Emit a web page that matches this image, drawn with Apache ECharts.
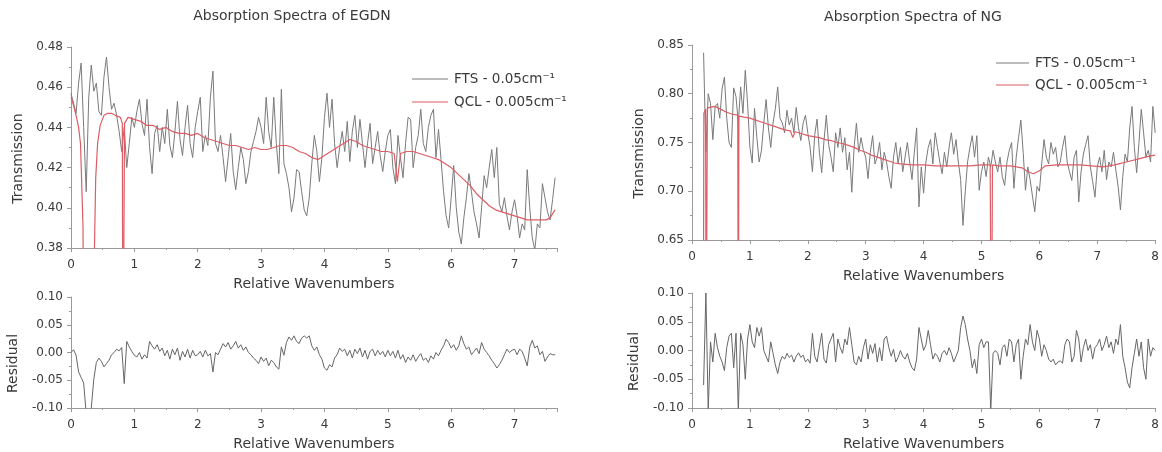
<!DOCTYPE html>
<html>
<head>
<meta charset="utf-8">
<title>Absorption Spectra of EGDN and NG</title>
<script src="https://cdn.jsdelivr.net/npm/echarts@6/dist/echarts.min.js"></script>
<style>
  html, body { margin: 0; padding: 0; background: #ffffff; }
  #chart { width: 1162px; height: 452px; }
</style>
</head>
<body>
<div id="chart"></div>
<script>
// Spacing of the sampled spectra, in relative wavenumbers
const WAVE_STEP = 0.04;

// Axis tick values
const egdnWaveTicks = [0, 1, 2, 3, 4, 5, 6, 7];
const egdnWaveEnd = 7.67;
const ngWaveTicks = [0, 1, 2, 3, 4, 5, 6, 7, 8];
const egdnTransTicks = [0.38, 0.40, 0.42, 0.44, 0.46, 0.48];
const ngTransTicks = [0.65, 0.70, 0.75, 0.80, 0.85];
const residualTicks = [-0.10, -0.05, 0.00, 0.05, 0.10];

// Series names
const FTS_NAME = 'FTS - 0.05cm\u207B\u00B9';
const QCL_NAME = 'QCL - 0.005cm\u207B\u00B9';

// ---------- EGDN ----------
const egdnStart = 0.00;
// FTS transmission, one row per wavenumber unit
const egdnFts = [
  0.457,0.452,0.447,0.462,0.472,0.440,0.408,0.455,0.471,0.458,0.462,0.448,0.446,0.465,0.475,0.460,0.449,0.452,0.446,0.438,0.428,0.440,0.420,0.432,0.445,
  0.440,0.448,0.454,0.442,0.436,0.454,0.430,0.417,0.437,0.441,0.428,0.440,0.432,0.449,0.431,0.425,0.438,0.453,0.434,0.426,0.440,0.451,0.432,0.425,0.440,
  0.448,0.455,0.428,0.436,0.431,0.455,0.468,0.432,0.428,0.436,0.425,0.413,0.425,0.437,0.418,0.409,0.420,0.430,0.424,0.412,0.418,0.428,0.433,0.438,0.445,
  0.440,0.432,0.455,0.438,0.430,0.455,0.432,0.417,0.459,0.422,0.417,0.410,0.398,0.405,0.419,0.418,0.408,0.399,0.396,0.405,0.422,0.436,0.428,0.413,0.425,
  0.445,0.457,0.440,0.454,0.432,0.420,0.430,0.438,0.428,0.443,0.423,0.438,0.446,0.430,0.444,0.432,0.420,0.432,0.442,0.422,0.430,0.438,0.426,0.418,0.428,
  0.436,0.439,0.420,0.412,0.436,0.425,0.415,0.432,0.445,0.444,0.420,0.430,0.436,0.449,0.432,0.428,0.440,0.446,0.449,0.425,0.439,0.424,0.408,0.396,0.390,
  0.405,0.421,0.400,0.388,0.382,0.395,0.405,0.417,0.408,0.398,0.392,0.385,0.400,0.416,0.410,0.420,0.429,0.415,0.430,0.402,0.398,0.405,0.396,0.389,0.398,
  0.404,0.396,0.385,0.392,0.389,0.419,0.400,0.385,0.379,0.392,0.390,0.412,0.405,0.398,0.394,0.404,0.415
];
// QCL transmission as [wavenumber, transmission]
const egdnQcl = [
  [0.00,0.455],[0.04,0.451],[0.08,0.446],[0.12,0.440],[0.15,0.432],[0.19,0.390],[0.20,0.300],
  [0.36,0.300],[0.37,0.380],[0.39,0.415],[0.42,0.432],[0.46,0.441],[0.52,0.446],[0.58,0.447],
  [0.64,0.447],[0.70,0.446],[0.78,0.445],[0.81,0.442],[0.82,0.300],[0.835,0.300],[0.845,0.442],
  [0.90,0.445],[1.00,0.444],[1.10,0.443],[1.20,0.441],[1.30,0.441],[1.40,0.439],[1.50,0.440],
  [1.60,0.438],[1.70,0.437],[1.80,0.437],[1.90,0.436],[2.00,0.437],[2.10,0.435],[2.20,0.434],
  [2.30,0.433],[2.40,0.432],[2.50,0.431],[2.60,0.431],[2.70,0.430],[2.80,0.429],[2.90,0.430],
  [3.00,0.429],[3.10,0.429],[3.20,0.430],[3.30,0.431],[3.40,0.431],[3.50,0.430],[3.60,0.428],
  [3.70,0.427],[3.80,0.425],[3.90,0.424],[4.00,0.426],[4.10,0.428],[4.20,0.430],[4.30,0.432],
  [4.40,0.434],[4.50,0.433],[4.60,0.431],[4.70,0.430],[4.80,0.429],[4.90,0.428],[5.00,0.428],
  [5.10,0.427],[5.15,0.413],[5.20,0.427],[5.30,0.428],[5.40,0.428],[5.50,0.427],[5.60,0.426],
  [5.70,0.425],[5.80,0.424],[5.90,0.422],[6.00,0.420],[6.10,0.417],[6.20,0.414],[6.30,0.411],
  [6.40,0.407],[6.50,0.404],[6.60,0.401],[6.70,0.399],[6.80,0.398],[6.90,0.397],[7.00,0.396],
  [7.10,0.395],[7.20,0.394],[7.30,0.394],[7.40,0.394],[7.50,0.394],[7.56,0.395],[7.64,0.399]
];
// Residual, one row per wavenumber unit
const egdnResidual = [
  0.000,0.005,-0.005,-0.035,-0.045,-0.055,-0.110,-0.120,-0.100,-0.048,-0.018,-0.010,-0.016,-0.026,-0.020,-0.014,-0.004,0.000,0.006,0.003,0.009,-0.056,0.020,0.010,0.002,
  -0.005,-0.008,0.000,-0.012,-0.004,-0.010,0.020,0.012,0.006,0.014,0.002,0.008,-0.006,0.004,-0.012,0.006,-0.004,0.008,-0.014,0.002,-0.008,0.006,-0.010,0.004,-0.006,
  -0.004,0.002,-0.008,0.004,-0.006,-0.002,-0.035,0.000,-0.004,0.006,0.016,0.010,0.018,0.006,0.012,0.020,0.008,0.014,0.004,0.010,0.000,-0.004,-0.010,-0.014,-0.020,
  -0.008,-0.016,-0.010,-0.024,-0.014,-0.018,-0.026,-0.030,0.010,-0.005,0.018,0.028,0.022,0.030,0.020,0.016,0.026,0.030,0.026,0.030,0.012,0.004,0.010,-0.004,-0.012,
  -0.028,-0.032,-0.022,-0.026,-0.010,-0.004,0.008,0.002,0.006,-0.006,0.004,-0.010,0.006,-0.002,0.008,-0.008,0.004,-0.012,0.002,0.006,-0.006,0.004,-0.004,0.002,-0.008,
  0.004,-0.006,0.002,-0.010,0.004,-0.012,-0.004,-0.018,-0.008,-0.014,-0.004,-0.016,-0.008,-0.002,-0.014,-0.010,-0.018,-0.006,-0.012,0.000,-0.006,0.004,0.012,0.024,0.018,
  0.008,0.014,0.004,0.012,0.030,0.016,0.006,0.010,-0.004,0.002,0.008,-0.002,0.018,0.006,0.000,-0.006,-0.014,-0.020,-0.028,-0.022,-0.014,-0.004,0.006,0.000,0.004,
  0.006,-0.004,0.006,0.002,-0.010,-0.024,0.010,0.022,0.008,0.012,-0.004,0.002,-0.016,-0.008,-0.002,-0.004,-0.004
];

// ---------- NG ----------
const ngStart = 0.20;
// FTS transmission; first row 0.20-0.96, then one row per unit, last value at 8.00
const ngFts = [
  0.842,0.740,0.800,0.790,0.753,0.787,0.790,0.775,0.805,0.817,0.775,0.750,0.745,0.806,0.797,0.770,0.807,0.780,0.824,0.790,
  0.745,0.729,0.785,0.755,0.730,0.742,0.770,0.794,0.765,0.745,0.770,0.785,0.807,0.775,0.770,0.760,0.783,0.768,0.775,0.760,0.786,0.765,0.752,0.770,0.778,
  0.760,0.745,0.720,0.758,0.774,0.740,0.719,0.752,0.778,0.748,0.735,0.720,0.760,0.745,0.765,0.740,0.755,0.722,0.740,0.699,0.745,0.770,0.740,0.755,0.742,
  0.735,0.713,0.740,0.757,0.728,0.735,0.750,0.722,0.740,0.730,0.715,0.703,0.735,0.750,0.728,0.745,0.720,0.735,0.750,0.730,0.712,0.740,0.765,0.684,0.725,
  0.698,0.730,0.745,0.753,0.728,0.760,0.745,0.730,0.718,0.740,0.725,0.745,0.760,0.738,0.753,0.730,0.712,0.665,0.700,0.730,0.745,0.757,0.735,0.757,0.701,
  0.720,0.730,0.715,0.735,0.725,0.742,0.730,0.720,0.735,0.715,0.706,0.730,0.742,0.750,0.703,0.735,0.755,0.773,0.740,0.701,0.725,0.712,0.695,0.679,0.705,
  0.700,0.728,0.753,0.735,0.728,0.750,0.738,0.745,0.725,0.730,0.745,0.757,0.730,0.720,0.711,0.735,0.742,0.689,0.720,0.738,0.748,0.757,0.725,0.710,0.694,
  0.725,0.735,0.720,0.742,0.712,0.730,0.725,0.740,0.722,0.705,0.681,0.715,0.738,0.730,0.765,0.787,0.745,0.719,0.750,0.784,0.760,0.735,0.742,0.730,0.787,
  0.760
];
// QCL transmission as [wavenumber, transmission]
const ngQcl = [
  [0.195,0.500],[0.205,0.780],[0.235,0.784],[0.245,0.500],[0.255,0.500],[0.265,0.785],[0.30,0.786],
  [0.40,0.787],[0.50,0.784],[0.60,0.781],[0.70,0.779],[0.79,0.778],[0.80,0.500],[0.81,0.777],
  [0.90,0.776],[1.00,0.775],[1.10,0.773],[1.20,0.771],[1.30,0.769],[1.40,0.767],[1.50,0.765],
  [1.60,0.763],[1.70,0.762],[1.74,0.755],[1.78,0.761],[1.90,0.759],[2.00,0.757],[2.10,0.756],
  [2.20,0.755],[2.30,0.753],[2.40,0.752],[2.50,0.750],[2.60,0.749],[2.70,0.747],[2.80,0.745],
  [2.90,0.742],[3.00,0.740],[3.10,0.737],[3.20,0.735],[3.30,0.733],[3.40,0.731],[3.50,0.729],
  [3.60,0.728],[3.80,0.727],[4.00,0.727],[4.20,0.726],[4.40,0.726],[4.60,0.726],[4.80,0.726],
  [5.00,0.727],[5.15,0.727],[5.17,0.500],[5.19,0.727],[5.30,0.726],[5.50,0.726],[5.70,0.724],
  [5.80,0.720],[5.90,0.718],[6.00,0.721],[6.10,0.726],[6.30,0.727],[6.50,0.727],[6.70,0.727],
  [6.90,0.726],[7.10,0.725],[7.30,0.727],[7.50,0.730],[7.70,0.733],[7.90,0.736],[8.00,0.737]
];
// Residual; first row 0.20-0.96, then one row per unit, last value at 8.00
const ngResidual = [
  -0.060,0.100,-0.105,0.015,-0.020,0.030,0.005,-0.010,-0.020,-0.035,0.005,0.025,0.030,-0.030,0.030,-0.105,0.030,0.010,-0.050,0.020,
  0.045,0.015,0.005,0.040,0.025,0.040,0.000,-0.010,-0.020,0.015,-0.005,-0.025,-0.040,-0.020,-0.010,-0.015,-0.005,-0.012,-0.008,-0.020,-0.010,-0.004,-0.012,-0.008,-0.020,
  -0.015,-0.022,0.030,-0.010,-0.020,0.005,0.030,-0.015,-0.022,0.010,0.020,0.030,-0.020,0.020,0.005,-0.005,0.020,0.010,0.040,0.010,-0.020,-0.025,-0.010,-0.020,0.005,
  0.020,-0.015,0.010,-0.005,0.012,-0.020,0.005,-0.018,0.020,0.025,0.005,-0.010,0.002,-0.020,-0.012,0.000,-0.010,-0.015,-0.005,-0.020,-0.030,-0.035,-0.015,0.040,0.020,
  0.000,0.010,0.035,0.010,-0.015,-0.005,-0.010,-0.020,-0.005,0.000,-0.008,0.005,-0.005,-0.020,-0.010,0.000,0.040,0.060,0.045,0.020,0.000,-0.030,-0.015,-0.040,0.010,
  0.020,0.005,0.015,0.015,-0.105,-0.005,0.000,-0.005,-0.025,0.005,0.010,-0.010,0.020,0.015,-0.020,0.010,0.020,-0.050,-0.010,0.020,0.010,0.045,0.015,0.000,0.035,
  0.020,-0.010,0.010,0.000,-0.015,-0.020,-0.015,-0.025,-0.020,-0.018,-0.022,0.010,0.020,0.015,-0.020,-0.010,0.035,0.020,-0.020,0.005,0.020,0.000,0.010,-0.015,0.005,
  0.010,0.020,0.000,0.010,0.025,0.005,0.015,-0.005,0.020,0.010,0.045,-0.010,-0.030,-0.055,-0.065,-0.030,-0.005,0.020,-0.010,0.015,-0.030,-0.050,0.020,-0.010,0.005,
  0.000
];

// Pair evenly sampled values with their wavenumbers
function onGrid(start, values) {
  return values.map((v, i) => [Math.round((start + i * WAVE_STEP) * 1000) / 1000, v]);
}

const FONT = 'DejaVu Sans';
const AXIS_COLOR = '#9a9a9a';
const TEXT_COLOR = '#3a3a3a';
const GRAY = '#7a7a7a';
const RED = '#dc5d65';
// Legend key: a plain horizontal stroke
const LINE_ICON = 'path://M0,0H40V1.3H0Z';

function step(ticks) {
  return Math.round((ticks[1] - ticks[0]) * 1000) / 1000;
}

function xAxisFor(gridIndex, ticks, max) {
  return {
    type: 'value', gridIndex,
    min: ticks[0], max: max, interval: step(ticks),
    name: 'Relative Wavenumbers', nameLocation: 'middle', nameGap: 29,
    nameTextStyle: { fontFamily: FONT, fontSize: 14, color: TEXT_COLOR },
    axisLine: { show: true, onZero: false, lineStyle: { color: AXIS_COLOR, width: 1 } },
    axisTick: { show: true, inside: false, length: 4, lineStyle: { color: AXIS_COLOR } },
    minorTick: { show: true, splitNumber: 2, length: 2, lineStyle: { color: AXIS_COLOR } },
    axisLabel: {
      margin: 11, fontFamily: FONT, fontSize: 12, color: TEXT_COLOR,
      formatter: v => (Math.abs(v - Math.round(v)) < 1e-6 ? String(Math.round(v)) : '')
    },
    splitLine: { show: false }
  };
}

function yAxisFor(gridIndex, ticks, name, gap) {
  return {
    type: 'value', gridIndex,
    min: ticks[0], max: ticks[ticks.length - 1], interval: step(ticks),
    name, nameLocation: 'middle', nameGap: gap, nameRotate: 90,
    nameTextStyle: { fontFamily: FONT, fontSize: 14, color: TEXT_COLOR, padding: [0, 22, 0, 0] },
    axisLine: { show: true, onZero: false, lineStyle: { color: AXIS_COLOR, width: 1 } },
    axisTick: { show: true, inside: false, length: 4, lineStyle: { color: AXIS_COLOR } },
    minorTick: { show: true, splitNumber: 2, length: 2, lineStyle: { color: AXIS_COLOR } },
    axisLabel: {
      margin: 8, fontFamily: FONT, fontSize: 12, color: TEXT_COLOR,
      formatter: v => (Math.abs(v) < 1e-9 ? 0 : v).toFixed(2)
    },
    splitLine: { show: false }
  };
}

function lineSeries(name, idx, data, color, width, z) {
  return {
    name, type: 'line', xAxisIndex: idx, yAxisIndex: idx, data,
    symbol: 'none', smooth: false, clip: true, z,
    lineStyle: { color, width }, itemStyle: { color },
    emphasis: { disabled: true }
  };
}

function legendAt(left, top, itemWidth, gap) {
  return {
    left, top, orient: 'vertical', selectedMode: false,
    icon: LINE_ICON, symbolKeepAspect: true,
    itemWidth, itemHeight: 14, itemGap: gap,
    data: [FTS_NAME, QCL_NAME],
    textStyle: { fontFamily: FONT, fontSize: 13.5, color: TEXT_COLOR, padding: [0, 0, 0, 1] }
  };
}

const chart = echarts.init(document.getElementById('chart'), null, { renderer: 'canvas' });

chart.setOption({
  backgroundColor: '#ffffff',
  animation: false,
  title: [
    { text: 'Absorption Spectra of EGDN', left: 292, top: 9, textAlign: 'center', padding: 0,
      textStyle: { fontFamily: FONT, fontSize: 14, fontWeight: 'normal', color: TEXT_COLOR } },
    { text: 'Absorption Spectra of NG', left: 913, top: 10, textAlign: 'center', padding: 0,
      textStyle: { fontFamily: FONT, fontSize: 14, fontWeight: 'normal', color: TEXT_COLOR } }
  ],
  legend: [
    legendAt(407, 67, 36, 9),
    legendAt(991, 51, 33, 8)
  ],
  grid: [
    { left: 71, top: 47, width: 486, height: 201 },
    { left: 71, top: 297, width: 486, height: 118 },
    { left: 692, top: 45, width: 466, height: 195 },
    { left: 692, top: 293, width: 466, height: 126 }
  ],
  xAxis: [
    xAxisFor(0, egdnWaveTicks, egdnWaveEnd),
    xAxisFor(1, egdnWaveTicks, egdnWaveEnd),
    xAxisFor(2, ngWaveTicks, ngWaveTicks[ngWaveTicks.length - 1]),
    xAxisFor(3, ngWaveTicks, ngWaveTicks[ngWaveTicks.length - 1])
  ],
  yAxis: [
    yAxisFor(0, egdnTransTicks, 'Transmission', 46),
    yAxisFor(1, residualTicks, 'Residual', 51),
    yAxisFor(2, ngTransTicks, 'Transmission', 46),
    yAxisFor(3, residualTicks, 'Residual', 51)
  ],
  series: [
    lineSeries(FTS_NAME, 0, onGrid(egdnStart, egdnFts), GRAY, 1, 2),
    lineSeries(QCL_NAME, 0, egdnQcl, RED, 1.2, 3),
    lineSeries('EGDN residual', 1, onGrid(egdnStart, egdnResidual), '#666666', 1, 2),
    lineSeries(FTS_NAME, 2, onGrid(ngStart, ngFts), GRAY, 1, 2),
    lineSeries(QCL_NAME, 2, ngQcl, RED, 1.2, 3),
    lineSeries('NG residual', 3, onGrid(ngStart, ngResidual), '#666666', 1, 2)
  ]
});
</script>
</body>
</html>
